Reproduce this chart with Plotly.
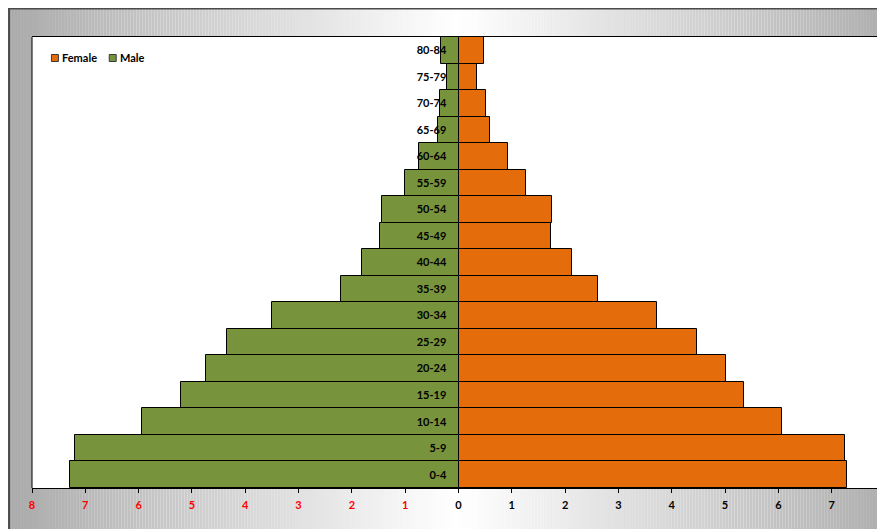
import plotly.graph_objects as go

# ---- data ----
age_groups = ["0-4", "5-9", "10-14", "15-19", "20-24", "25-29", "30-34", "35-39",
              "40-44", "45-49", "50-54", "55-59", "60-64", "65-69", "70-74", "75-79", "80-84"]
male = [7.29, 7.20, 5.93, 5.20, 4.73, 4.34, 3.50, 2.21,
        1.81, 1.48, 1.44, 1.01, 0.75, 0.39, 0.35, 0.22, 0.32]
female = [7.29, 7.25, 6.07, 5.36, 5.01, 4.47, 3.72, 2.62,
          2.12, 1.74, 1.76, 1.27, 0.93, 0.60, 0.52, 0.34, 0.47]
series_names = ["Female", "Male"]
series_colors = ["#E46C0A", "#77933C"]
tick_values = [-8, -7, -6, -5, -4, -3, -2, -1, 0, 1, 2, 3, 4, 5, 6, 7, 8]
tick_labels = ['<span style="color:#ff0000">%d</span>' % abs(v) if v < 0 else str(v)
               for v in tick_values]

W, H = 885, 529
L, R, T, B = 24, 5, 29, 49
XMIN, XMAX = -8, 8
FONT = "Lato, 'Liberation Sans', sans-serif"

fig = go.Figure()
fig.add_trace(go.Bar(
    y=age_groups, x=female, name=series_names[0], orientation="h",
    marker=dict(color=series_colors[0], line=dict(color="#000000", width=1)),
))
fig.add_trace(go.Bar(
    y=age_groups, x=[-v for v in male], name=series_names[1], orientation="h",
    customdata=male, hovertemplate="%{y}: %{customdata}<extra>Male</extra>",
    marker=dict(color=series_colors[1], line=dict(color="#000000", width=1)),
))

# ---- pixel -> paper helpers (figure coordinates) ----
pw = W - L - R
ph = H - T - B
def px2x(px):
    return (px - L) / pw
def py2y(py):
    return (H - B - py) / ph

shapes = []
annotations = []
# background gradient (decoration): grey at the edges, white in the middle
center = 451.0
half = 451.0
step = 3
x = 0
while x < W:
    d = abs(x + step / 2 - center) / half
    g = int(round(255 - 85 * min(d, 1.0)))
    col = "rgb(%d,%d,%d)" % (g, g, g)
    shapes.append(dict(type="rect", xref="paper", yref="paper", layer="below",
                       x0=px2x(x), x1=px2x(min(x + step, W)),
                       y0=py2y(H), y1=py2y(0),
                       fillcolor=col, line=dict(width=0)))
    x += step
# white plot area
shapes.append(dict(type="rect", xref="paper", yref="paper", layer="below",
                   x0=0, x1=1, y0=0, y1=1,
                   fillcolor="white", line=dict(width=0)))
# chart frame lines
shapes.append(dict(type="line", xref="paper", yref="paper",
                   x0=px2x(1), x1=px2x(1), y0=py2y(0), y1=py2y(H),
                   line=dict(color="#4a4a4a", width=2)))
shapes.append(dict(type="line", xref="paper", yref="paper",
                   x0=px2x(0), x1=px2x(W), y0=py2y(0.75), y1=py2y(0.75),
                   line=dict(color="#4a4a4a", width=1.5)))
# plot area left border
shapes.append(dict(type="line", xref="paper", yref="paper",
                   x0=0, x1=0, y0=0, y1=1,
                   line=dict(color="#000000", width=1)))

# compact legend (square swatch + bold label)
legend_x = [47, 105]
legend_y = 50
for name, col, lx in zip(series_names, series_colors, legend_x):
    shapes.append(dict(type="rect", xref="paper", yref="paper",
                       x0=px2x(lx - 3.5), x1=px2x(lx + 3.5),
                       y0=py2y(legend_y + 3.5), y1=py2y(legend_y - 3.5),
                       fillcolor=col, line=dict(color="#3a3a3a", width=1)))
    annotations.append(dict(xref="paper", yref="paper", x=px2x(lx + 5), y=py2y(legend_y),
                            xanchor="left", yanchor="middle", showarrow=False,
                            text="<b>%s</b>" % name,
                            font=dict(family=FONT, size=11, color="#000000")))

fig.update_layout(
    width=W, height=H,
    margin=dict(l=L, r=R, t=T, b=B, pad=0),
    paper_bgcolor="white",
    plot_bgcolor="rgba(0,0,0,0)",
    barmode="relative",
    bargap=0,
    font=dict(family=FONT, size=11, color="#000000"),
    shapes=shapes,
    annotations=annotations,
    showlegend=False,
    xaxis=dict(range=[XMIN, XMAX], tickvals=tick_values, ticktext=tick_labels,
               showgrid=False, zeroline=False, showline=True, mirror=True,
               linecolor="#000000", linewidth=1,
               ticks="outside", ticklen=4, tickcolor="#000000",
               ticklabelstandoff=3,
               tickfont=dict(size=11, weight="bold", color="#000000"),
               fixedrange=True),
    yaxis=dict(type="category", anchor="free", position=(0 - XMIN) / (XMAX - XMIN),
               showgrid=False, zeroline=False, showline=False,
               ticks="outside", ticklen=10, tickcolor="rgba(0,0,0,0)",
               tickfont=dict(size=11, weight="bold", color="#000000"),
               range=[-0.5, len(age_groups) - 0.5], fixedrange=True),
)

fig.write_html("out.html")
